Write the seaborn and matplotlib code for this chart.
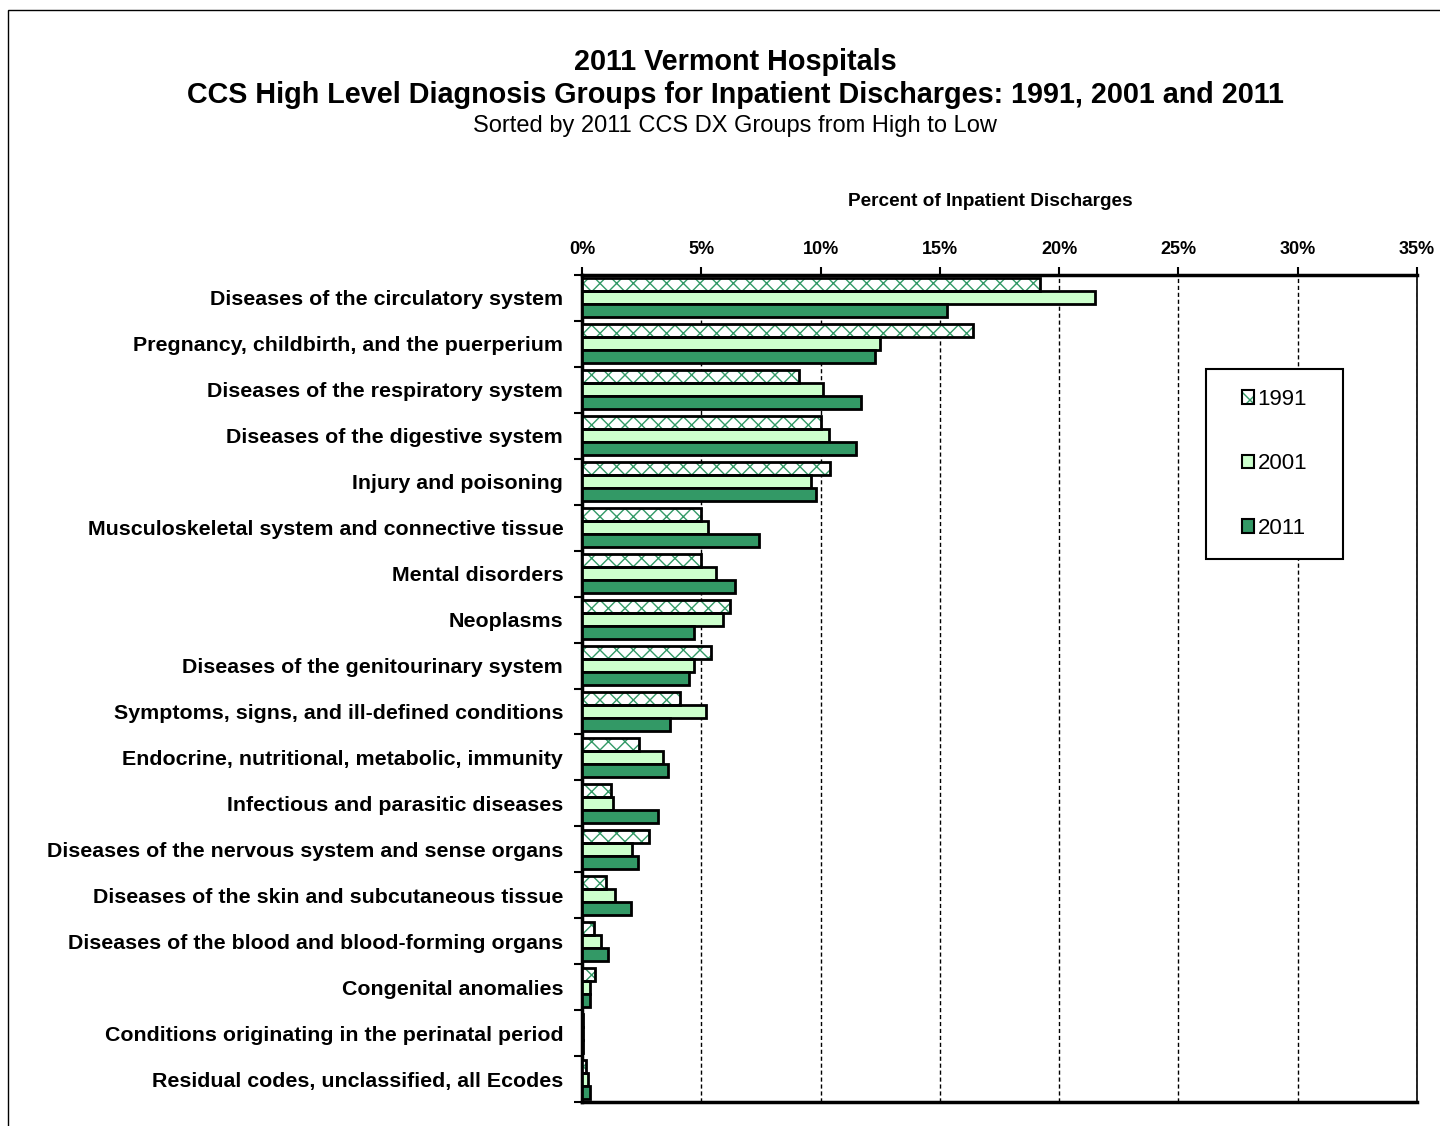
import matplotlib
matplotlib.use('Agg')
import matplotlib.pyplot as plt
import seaborn as sns
import pandas as pd
import numpy as np
from matplotlib.patches import Patch, Rectangle
from matplotlib.ticker import FixedLocator, PercentFormatter
from matplotlib.legend_handler import HandlerTuple

categories = [
    "Diseases of the circulatory system",
    "Pregnancy, childbirth, and the puerperium",
    "Diseases of the respiratory system",
    "Diseases of the digestive system",
    "Injury and poisoning",
    "Musculoskeletal system and connective tissue",
    "Mental disorders",
    "Neoplasms",
    "Diseases of the genitourinary system",
    "Symptoms, signs, and ill-defined conditions",
    "Endocrine, nutritional, metabolic, immunity",
    "Infectious and parasitic diseases",
    "Diseases of the nervous system and sense organs",
    "Diseases of the skin and subcutaneous tissue",
    "Diseases of the blood and blood-forming organs",
    "Congenital anomalies",
    "Conditions originating in the perinatal period",
    "Residual codes, unclassified, all Ecodes",
]
years = ["1991", "2001", "2011"]
pct_1991 = [19.2, 16.4, 9.1, 10.0, 10.4, 5.0, 5.0, 6.2, 5.4, 4.1, 2.4, 1.2, 2.8, 1.0, 0.5, 0.55, 0.03, 0.15]
pct_2001 = [21.5, 12.5, 10.1, 10.35, 9.6, 5.3, 5.6, 5.9, 4.7, 5.2, 3.4, 1.3, 2.1, 1.4, 0.8, 0.35, 0.05, 0.25]
pct_2011 = [15.3, 12.3, 11.7, 11.5, 9.8, 7.4, 6.4, 4.7, 4.5, 3.7, 3.6, 3.2, 2.35, 2.05, 1.1, 0.35, 0.05, 0.35]

title1 = "2011 Vermont Hospitals"
title2 = "CCS High Level Diagnosis Groups for Inpatient Discharges: 1991, 2001 and 2011"
subtitle = "Sorted by 2011 CCS DX Groups from High to Low"
xlabel = "Percent of Inpatient Discharges"
xticks = [0, 5, 10, 15, 20, 25, 30, 35]

df = pd.DataFrame({
    "Category": categories * 3,
    "Year": np.repeat(years, len(categories)),
    "Percent": pct_1991 + pct_2001 + pct_2011,
})

sns.set_theme(style="white")
plt.rcParams["font.family"] = ["Liberation Sans", "DejaVu Sans"]
plt.rcParams["hatch.linewidth"] = 1.0
for k in ["text.color", "axes.labelcolor", "xtick.color", "ytick.color"]:
    plt.rcParams[k] = "black"

green = "#339966"
light = "#CCFFCC"
palette = {"1991": "white", "2001": light, "2011": green}

fig = plt.figure(figsize=(14.4, 11.26), dpi=100)
ax = fig.add_axes([582 / 1440, 1 - 1102 / 1126, (1417 - 582) / 1440, (1102 - 275) / 1126])

sns.barplot(data=df, y="Category", x="Percent", hue="Year", hue_order=years,
            orient="h", palette=palette, width=0.85, edgecolor="black",
            linewidth=2, saturation=1, ax=ax, legend=False, zorder=3)

# hatch the 1991 bars in green with a black outline
for bar in ax.containers[0]:
    bar.set_facecolor("white")
    bar.set_edgecolor(green)
    bar.set_hatch("xx")
    bar.set_linewidth(0)
    ax.add_patch(Rectangle(bar.get_xy(), bar.get_width(), bar.get_height(),
                           fill=False, edgecolor="black", linewidth=2,
                           zorder=bar.get_zorder() + 0.1))

ax.set_xlim(xticks[0], xticks[-1])
ax.xaxis.set_major_locator(FixedLocator(xticks))
ax.xaxis.set_major_formatter(PercentFormatter(decimals=0))
ax.xaxis.tick_top()
ax.xaxis.set_label_position("top")
ax.set_xlabel(xlabel, fontsize=13.7, fontweight="bold", labelpad=24)
ax.xaxis.set_label_coords((990 - 582) / 835, 1 + (275 - 201) / 827, transform=ax.transAxes)
ax.xaxis.label.set_va("center")
ax.set_ylabel("")
ax.tick_params(axis="x", which="major", top=True, bottom=False, length=6, width=1.5,
               color="black", pad=6, labelsize=13, labelcolor="black")
for t in ax.get_xticklabels():
    t.set_fontweight("bold")

n = len(categories)
ax.yaxis.set_minor_locator(FixedLocator(np.arange(n + 1) - 0.5))
ax.tick_params(axis="y", which="major", left=False, length=0, pad=13.5, labelsize=15.4, labelcolor="black")
ax.tick_params(axis="y", which="minor", left=True, length=6, width=1.5, color="black")
for t in ax.get_yticklabels():
    t.set_fontweight("bold")

ax.xaxis.grid(True, linestyle=(0, (3, 2)), color="black", linewidth=1)
ax.yaxis.grid(False)
ax.set_axisbelow(True)

for side in ["left", "top", "bottom"]:
    ax.spines[side].set_linewidth(2.5)
    ax.spines[side].set_color("black")
ax.spines["right"].set_linewidth(1.2)
ax.spines["right"].set_color("black")

h1 = (Patch(facecolor="white", edgecolor=green, hatch="xx", linewidth=0),
      Patch(fill=False, edgecolor="black", linewidth=1.5))
h2 = Patch(facecolor=light, edgecolor="black", linewidth=1.5)
h3 = Patch(facecolor=green, edgecolor="black", linewidth=1.5)
leg = ax.legend([h1, h2, h3], years, handler_map={tuple: HandlerTuple(ndivide=1)},
                loc="upper left", bbox_to_anchor=((1242 - 582) / 835, 1 - (389 - 275) / 827),
                fontsize=16, handlelength=0.55, handleheight=0.55, handletextpad=0.15,
                labelspacing=1.95, borderpad=0, borderaxespad=0, frameon=False)
leg.set_zorder(11)

tx = 735 / 1440
fig.text(tx, 1 - 62 / 1126, title1, ha="center", va="center", fontsize=20.7, fontweight="bold")
fig.text(tx, 1 - 95 / 1126, title2, ha="center", va="center", fontsize=20.7, fontweight="bold")
fig.text(tx, 1 - 126 / 1126, subtitle, ha="center", va="center", fontsize=17)

fig.add_artist(Rectangle((8 / 1440, -0.05), 1.2, 1 - 10 / 1126 + 0.05, transform=fig.transFigure,
                         fill=False, edgecolor="black", linewidth=1))

# legend frame drawn around the legend contents with wider side padding
fig.canvas.draw()
bb = leg.get_window_extent()
padx, pady = 36, 20
inv = ax.transAxes.inverted()
(x0, y0), (x1, y1) = inv.transform([(bb.x0 - padx, bb.y0 - pady), (bb.x1 + padx, bb.y1 + pady)])
ax.add_patch(Rectangle((x0, y0), x1 - x0, y1 - y0, transform=ax.transAxes, clip_on=False,
                       facecolor="white", edgecolor="black", linewidth=1.5, zorder=9))
fig.savefig("out.png", dpi=100)
